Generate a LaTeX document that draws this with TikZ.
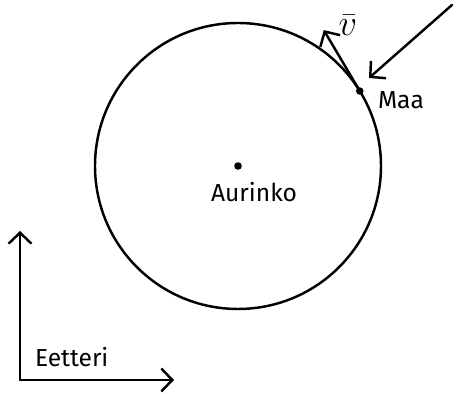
\documentclass[tikz,border=0pt]{standalone}
\usepackage{fontspec}
\setsansfont{Fira Sans}
\usepackage{tikz}
\usetikzlibrary{positioning,calc,arrows.meta}
\tikzset{
  pen/.style={line width=1.4pt,line cap=round,line join=round},
  vec/.style={pen,-{Straight Barb[length=2.2mm,width=4.6mm,line width=1.4pt]}},
  hand/.style={font=\sffamily\fontsize{14}{16}\selectfont,inner sep=1pt}
}

\begin{document}
\begin{tikzpicture}[x=0.02cm,y=-0.02cm]
\useasboundingbox (0,0) rectangle (457,394);
% orbit
\coordinate (sun) at (238,166);
\draw[pen] (sun) circle[radius=143];
\fill (sun) circle[radius=3.8];
\node[hand,anchor=north] (sunlbl) at (254,180) {Aurinko};
% earth and velocity
\coordinate (earth) at ($(sun)+(-31.6:143)$);
\fill (earth) circle[radius=3.8];
\coordinate (vtip) at ($(earth)+(-36,-61)$);
\draw[vec] (earth) -- (vtip);
\node[hand,font=\fontsize{21}{24}\selectfont] (vlbl) at (348,25) {$\bar{v}$};
\node[hand,anchor=west] (earthlbl) at (376,100) {Maa};
% incoming
\coordinate (far) at (452,5);
\coordinate (near) at (369,78);
\draw[vec] (far) -- (near);
% ether frame
\coordinate (o) at (20,380);
\coordinate (ytip) at (20,231);
\coordinate (xtip) at (174,380);
\draw[vec] (o) -- (ytip);
\draw[vec] (o) -- (xtip);
\node[hand,anchor=west] (etherlbl) at (33,357) {Eetteri};
\end{tikzpicture}
\end{document}
